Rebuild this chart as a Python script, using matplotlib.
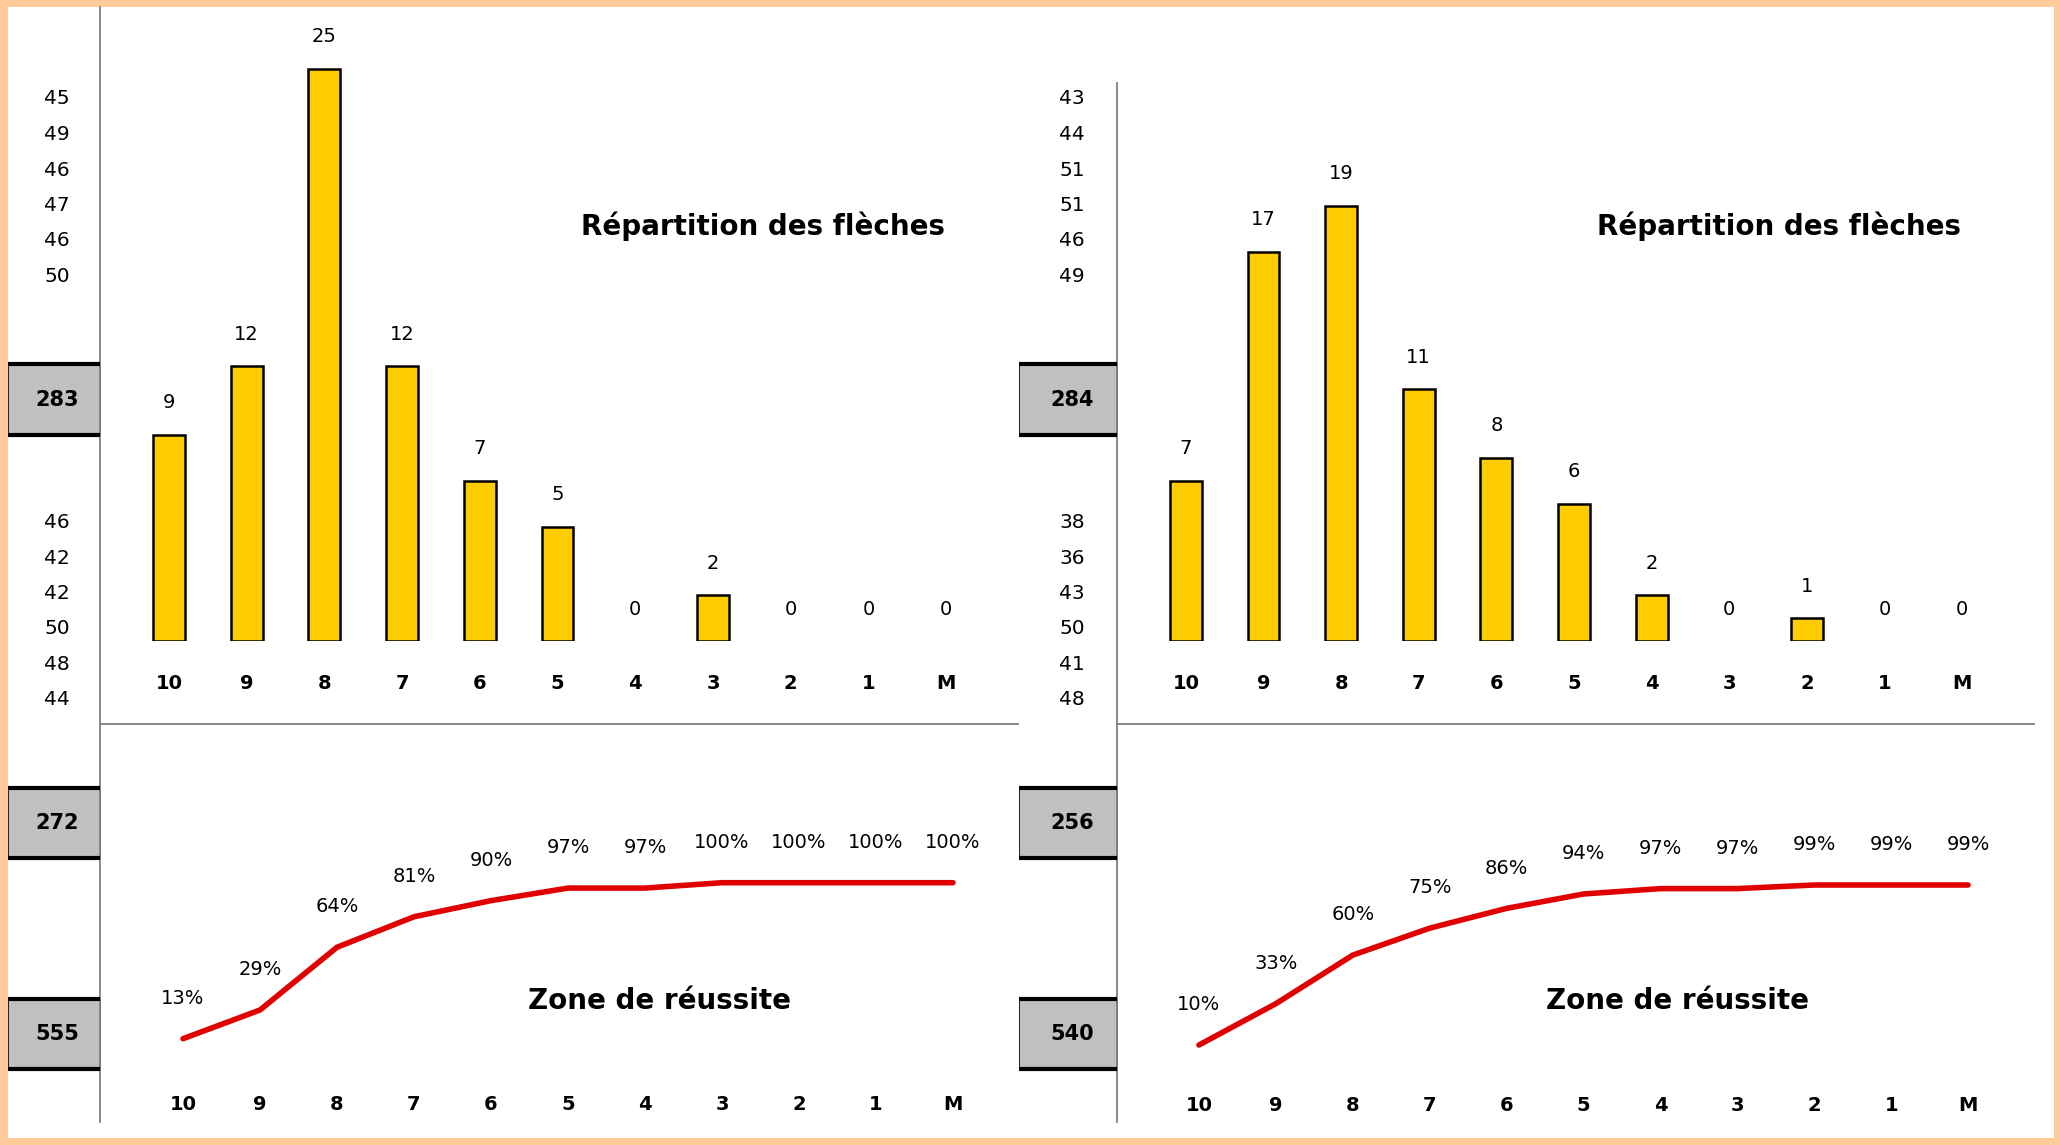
#------ ARCHERY SCORE SHEET : two rounds ------#

import numpy as np
import matplotlib
matplotlib.use('Agg')
import matplotlib.pyplot as plt
from matplotlib.patches import Rectangle

plt.rcParams['font.family'] = ['DejaVu Sans']

# Categories (target zones)
zones = ['10', '9', '8', '7', '6', '5', '4', '3', '2', '1', 'M']

# Arrow counts per zone
counts_left = [9, 12, 25, 12, 7, 5, 0, 2, 0, 0, 0]
counts_right = [7, 17, 19, 11, 8, 6, 2, 0, 1, 0, 0]

# Cumulative success (%)
pct_left = [13, 29, 64, 81, 90, 97, 97, 100, 100, 100, 100]
pct_right = [10, 33, 60, 75, 86, 94, 97, 97, 99, 99, 99]

# End scores in the side column
ends_top_left = ['45', '49', '46', '47', '46', '50']
ends_bot_left = ['46', '42', '42', '50', '48', '44']
ends_top_right = ['43', '44', '51', '51', '46', '49']
ends_bot_right = ['38', '36', '43', '50', '41', '48']

# Totals in the grey boxes
totals_left = ['283', '272', '555']
totals_right = ['284', '256', '540']

W, H = 2060, 1145
BORDER = '#FFCC99'
BAR = '#FFCC00'
LINE = '#E00000'
GRID = '#808080'
BOXGREY = '#C0C0C0'

fig = plt.figure(figsize=(W / 100, H / 100), dpi=100)
fig.patch.set_facecolor(BORDER)

# background axes in pixel coords for the sheet decoration
bg = fig.add_axes([0, 0, 1, 1])
bg.set_xlim(0, W)
bg.set_ylim(H, 0)
bg.axis('off')
bg.add_patch(Rectangle((8, 7), 2054 - 8, 1138 - 7, facecolor='white', edgecolor='none'))


def px_axes(x0, x1, ybot, ytop):
    # axes from pixel box
    return fig.add_axes([x0 / W, 1 - ybot / H, (x1 - x0) / W, (ybot - ytop) / H])


def side_column(xl, xr, xc, top_vals, bot_vals, totals, vtop):
    bg.plot([xr, xr], [vtop, 1122], color=GRID, lw=1.3)
    for i, v in enumerate(top_vals):
        bg.text(xc, 99 + 35.5 * i, v, fontsize=14.5, ha='center', va='center')
    for i, v in enumerate(bot_vals):
        bg.text(xc, 523 + 35.3 * i, v, fontsize=14.5, ha='center', va='center')
    for (t, b), tot in zip([(364, 435), (788, 858), (999, 1069)], totals):
        bg.add_patch(Rectangle((xl, t), xr - xl, b - t, facecolor=BOXGREY,
                               edgecolor='black', lw=0.6))
        bg.plot([xl, xr], [t, t], color='black', lw=3, solid_capstyle='butt')
        bg.plot([xl, xr], [b, b], color='black', lw=3, solid_capstyle='butt')
        bg.text(xc, (t + b) / 2, tot, fontsize=15, fontweight='bold',
                ha='center', va='center')


side_column(8, 100, 57, ends_top_left, ends_bot_left, totals_left, 7)
side_column(1019, 1117, 1072, ends_top_right, ends_bot_right, totals_right, 83)
bg.plot([100, 1018], [724, 724], color=GRID, lw=1.3)
bg.plot([1117, 2034], [724, 724], color=GRID, lw=1.3)


def bar_panel(x0, x1, counts, title_x):
    ax = px_axes(x0, x1, 641, 641 - 27 * 22.9)
    x = np.arange(len(zones))
    edges = ['black' if c > 0 else 'none' for c in counts]
    ax.bar(x, counts, width=0.41, color=BAR, edgecolor=edges, linewidth=1.8)
    for xi, c in zip(x, counts):
        ax.annotate(str(c), (xi, c), xytext=(0, 23), textcoords='offset points',
                    ha='center', va='center', fontsize=14)
    ax.set_xlim(-0.5, len(zones) - 0.5)
    ax.set_ylim(0, 27)
    ax.set_xticks(x)
    ax.set_xticklabels(zones, fontsize=14, fontweight='bold')
    ax.tick_params(axis='x', length=0, pad=24)
    ax.set_yticks([])
    for s in ax.spines.values():
        s.set_visible(False)
    ax.patch.set_alpha(0)
    bg.text(title_x, 226, 'Répartition des flèches', fontsize=20,
            fontweight='bold', ha='center', va='center')


def line_panel(x0, x1, ybot, pxper, pct, title_x):
    ax = px_axes(x0, x1, ybot, ybot - 110 * pxper)
    x = np.arange(len(zones))
    ax.plot(x, pct, color=LINE, lw=4, solid_capstyle='round')
    for xi, p in zip(x, pct):
        ax.annotate(f'{p}%', (xi, p), xytext=(0, 29), textcoords='offset points',
                    ha='center', va='center', fontsize=14)
    ax.set_xlim(-0.5, len(zones) - 0.5)
    ax.set_ylim(0, 110)
    ax.set_xticks(x)
    ax.set_xticklabels(zones, fontsize=14, fontweight='bold')
    ax.tick_params(axis='x', length=0, pad=24)
    ax.set_yticks([])
    for s in ax.spines.values():
        s.set_visible(False)
    ax.patch.set_alpha(0)
    bg.text(title_x, 1001, 'Zone de réussite', fontsize=20,
            fontweight='bold', ha='center', va='center')


bar_panel(130, 985, counts_left, 763)
bar_panel(1147, 2001, counts_right, 1779)
line_panel(144.5, 991.5, 1062, 1.793, pct_left, 660)
line_panel(1160.5, 2006.5, 1063, 1.798, pct_right, 1678)

plt.savefig('out.png', dpi=100, facecolor=fig.get_facecolor())
